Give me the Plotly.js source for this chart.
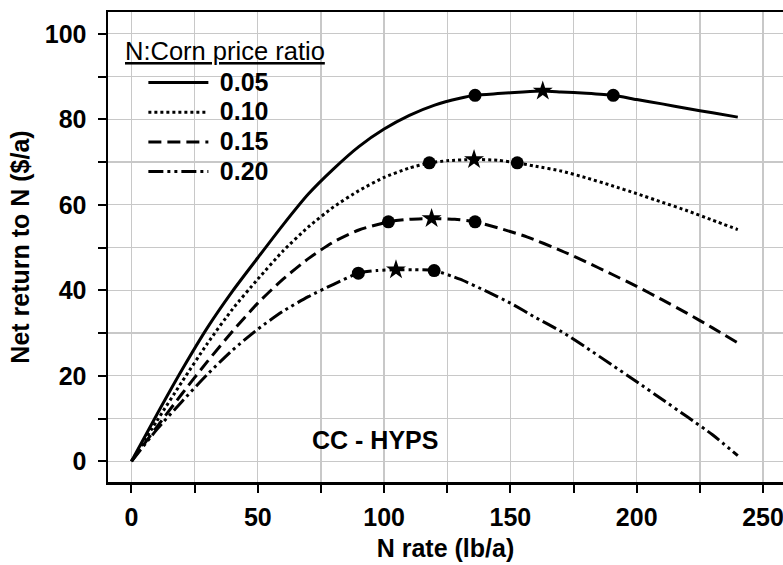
<!DOCTYPE html>
<html>
<head>
<meta charset="utf-8">
<script src="https://cdn.plot.ly/plotly-3.0.1.min.js"></script>
<style>html,body{margin:0;padding:0;background:#fff;}#chart{width:783px;height:565px;}</style>
</head>
<body>
<div id="chart"></div>
<script>
// Series names (N:Corn price ratio)
const seriesNames = ["0.05", "0.10", "0.15", "0.20"];

// Net return curves (x = N rate lb/a, y = $/a)
const s05x = [0,10,20,30,40,50,60,70,80,90,100,110,120,130,136,145,155,162.8,170,180,190.7,200,210,220,230,240];
const s05y = [0,10.9,21.4,31.2,39.8,47.6,55.3,62.5,68.4,73.6,77.7,80.9,83.3,84.9,85.6,86.0,86.4,86.6,86.4,86.1,85.6,84.6,83.6,82.5,81.5,80.5];

const s10x = [0,10,20,30,40,50,60,70,80,90,100,110,117.9,125,135.6,145,152.7,160,170,180,190,200,210,220,230,240];
const s10y = [0,9.4,18.6,27.5,35.6,42.6,49.2,54.8,59.5,63.3,66.4,68.6,69.8,70.3,70.6,70.4,69.8,69.0,67.9,66.3,64.5,62.6,60.6,58.6,56.4,54.2];

const s15x = [0,10,20,30,40,50,60,70,80,90,101.7,110,118.8,128,136,145,156.5,170,180,190,200,210,220,230,240];
const s15y = [0,8.0,15.8,23.3,30.4,37.0,42.6,47.4,51.3,54.1,56.0,56.6,56.8,56.6,56.0,54.6,52.5,49.3,46.6,43.8,40.9,37.8,34.6,31.2,27.7];

const s20x = [0,10,20,30,40,50,60,70,80,89.8,97,104.7,112,119.8,130,140,150,160,170,180,190,200,210,220,230,240];
const s20y = [0,7.4,14.0,20.3,26.0,30.9,35.1,38.5,41.4,44.0,44.6,44.8,44.8,44.6,42.6,39.9,37.0,33.6,30.4,26.6,22.6,18.6,14.5,10.4,6.2,1.3];

// Range limits (circles) and optimum (stars)
const circleX = [136, 190.7, 117.9, 152.7, 101.7, 136, 89.8, 119.8];
const circleY = [85.6, 85.6, 69.8, 69.8, 56.0, 56.0, 44.0, 44.6];
const starX = [162.8, 135.6, 118.8, 104.7];
const starY = [86.6, 70.6, 56.8, 44.8];

// Axis ticks
const xTicks = [0, 50, 100, 150, 200, 250];
const yTicks = [0, 20, 40, 60, 80, 100];

const FONT = "Liberation Sans, Arial, Helvetica, sans-serif";
const FS = 25;
const xs = [s05x, s10x, s15x, s20x];
const ys = [s05y, s10y, s15y, s20y];
const dashes = ["solid", "3px,3px", "13px,6px", "15px,4px,3px,4px,3px,4px"];

const traces = [];
for (let i = 0; i < 4; i++) {
  traces.push({
    x: xs[i], y: ys[i], type: "scatter", mode: "lines",
    name: '<span style="font-size:13px">\u2002</span><span style="font-size:' + FS + 'px">' + seriesNames[i] + '</span>',
    line: {color: "#000", width: 3, dash: dashes[i], shape: "spline", smoothing: 0.6}
  });
}
traces.push({x: circleX, y: circleY, type: "scatter", mode: "markers", showlegend: false,
  marker: {symbol: "circle", size: 13, color: "#000"}});
traces.push({x: starX, y: starY, type: "scatter", mode: "markers", showlegend: false,
  marker: {symbol: "star", size: 15, color: "#000"}});

const layout = {
  width: 783, height: 565,
  margin: {l: 108, r: 0, t: 12, b: 83, pad: 0},
  paper_bgcolor: "#fff", plot_bgcolor: "#fff",
  font: {family: FONT, size: FS, color: "#000"},
  showlegend: true,
  legend: {
    x: 0.0524, y: 0.892, xanchor: "left", yanchor: "top",
    bgcolor: "rgba(0,0,0,0)", borderwidth: 0,
    font: {family: FONT, size: 20.5, weight: "bold", color: "#000"},
    itemwidth: 60, tracegroupgap: 0
  },
  xaxis: {
    range: [-9.3, 257.9], showgrid: true, gridcolor: "rgb(200,200,200)", gridwidth: 1.3,
    tickmode: "array", tickvals: xTicks, ticktext: xTicks.map(String),
    ticks: "outside", ticklen: 8, tickwidth: 2, tickcolor: "#000",
    showline: true, linecolor: "#000", linewidth: 2.5, mirror: true, zeroline: false,
    tickfont: {family: FONT, size: FS, weight: "bold"}, ticklabelstandoff: 3,
    ticklabeloverflow: "allow",
    minor: {dtick: 25, tick0: 0, ticks: "outside", ticklen: 8, tickwidth: 2, tickcolor: "#000",
            showgrid: true, gridcolor: "rgb(200,200,200)", gridwidth: 1.3},
    title: {text: "N rate (lb/a)", font: {family: FONT, size: FS, weight: "bold"}, standoff: 10}
  },
  yaxis: {
    range: [-4.85, 105.09], showgrid: true, gridcolor: "rgb(200,200,200)", gridwidth: 1.3,
    tickmode: "array", tickvals: yTicks, ticktext: yTicks.map(String),
    ticks: "outside", ticklen: 8, tickwidth: 2, tickcolor: "#000",
    showline: true, linecolor: "#000", linewidth: 2.5, mirror: false, zeroline: false,
    tickfont: {family: FONT, size: FS, weight: "bold"}, ticklabelstandoff: 6,
    minor: {dtick: 10, tick0: 0, ticks: "outside", ticklen: 8, tickwidth: 2, tickcolor: "#000",
            showgrid: true, gridcolor: "rgb(200,200,200)", gridwidth: 1.3},
    title: {text: "Net return to N ($/a)", font: {family: FONT, size: FS, weight: "bold"}, standoff: 8}
  },
  annotations: [
    {text: "<u>N:Corn price ratio</u>", xref: "paper", yref: "paper", x: 0.0215, y: 0.917,
     xanchor: "left", yanchor: "middle", showarrow: false,
     font: {family: FONT, size: 25.5, color: "#000"}},
    {text: "<b>CC - HYPS</b>", xref: "x", yref: "y", x: 96.3, y: 4.9,
     xanchor: "center", yanchor: "middle", showarrow: false,
     font: {family: FONT, size: FS, color: "#000"}}
  ]
};

Plotly.newPlot("chart", traces, layout, {staticPlot: true, displayModeBar: false});
</script>
</body>
</html>
